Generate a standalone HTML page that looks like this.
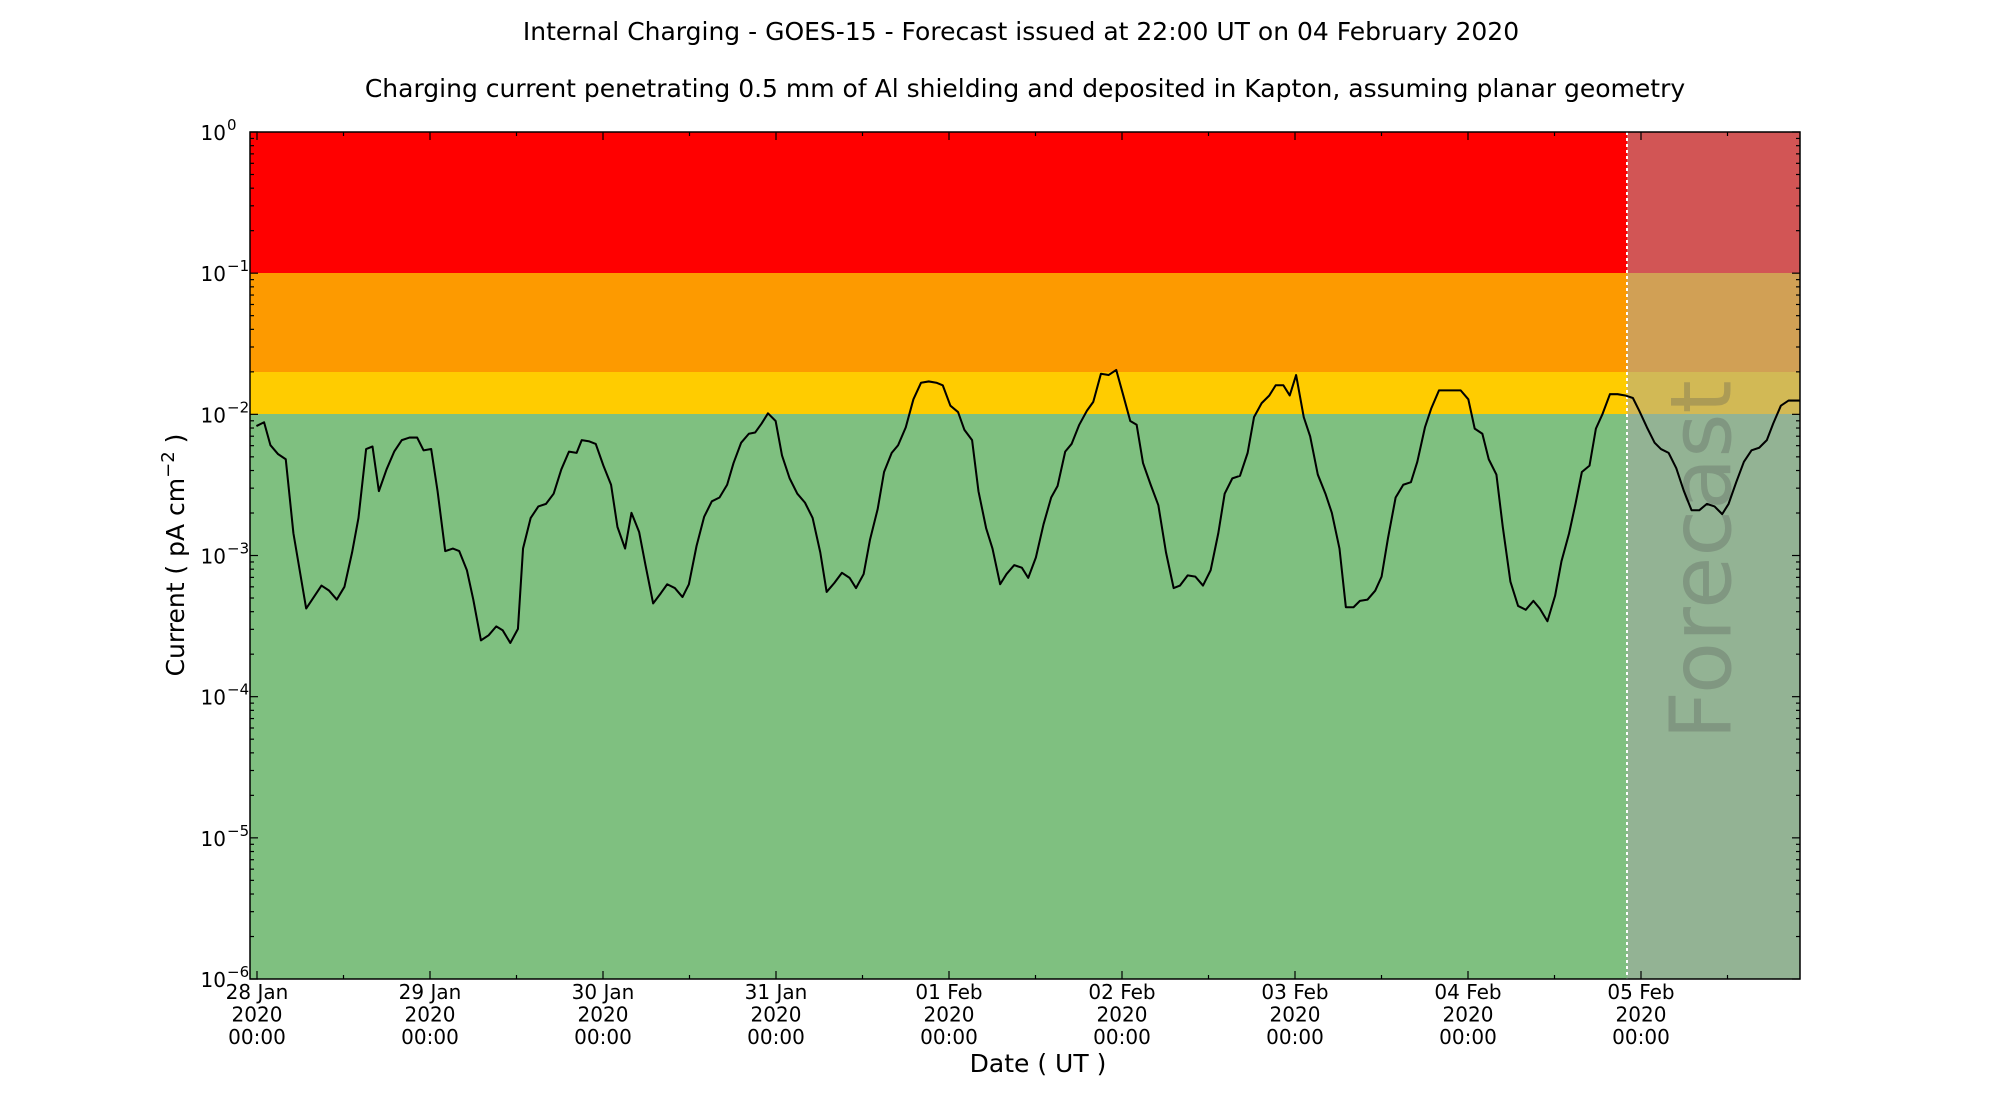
<!DOCTYPE html>
<html><head><meta charset="utf-8"><style>
body{margin:0;background:#fff}
svg{display:block;font-family:"DejaVu Sans","Liberation Sans",sans-serif}
</style></head><body>
<svg width="2000" height="1100" viewBox="0 0 2000 1100" xmlns="http://www.w3.org/2000/svg">
<rect width="2000" height="1100" fill="#fff"/>
<text x="1021" y="40" font-size="25" text-anchor="middle">Internal Charging - GOES-15 - Forecast issued at 22:00 UT on 04 February 2020</text>
<text x="1025" y="97" font-size="25" text-anchor="middle">Charging current penetrating 0.5 mm of Al shielding and deposited in Kapton, assuming planar geometry</text>
<!-- bands -->
<rect x="250" y="132" width="1550" height="141" fill="#ff0000"/>
<rect x="250" y="273" width="1550" height="99" fill="#fd9a00"/>
<rect x="250" y="372" width="1550" height="42" fill="#ffcc00"/>
<rect x="250" y="414" width="1550" height="565" fill="#7fc080"/>
<rect x="1627" y="132" width="173" height="847" fill="rgb(167,167,167)" fill-opacity="0.51"/>
<text transform="translate(1702,560) rotate(-90)" font-size="85" text-anchor="middle" dominant-baseline="central" fill="#555" fill-opacity="0.3">Forecast</text>
<line x1="1627" y1="132" x2="1627" y2="979" stroke="#fff" stroke-width="2" stroke-dasharray="3,3"/>
<g transform="scale(1.2757)">
<polyline fill="none" stroke="#000" stroke-width="1.6" stroke-linejoin="round" points="201,334 207,331 212,349 218,356 224,360 230,418 240,477 246,468 252,459 258,463 264,470 270,460 276,433 281,406 287,352 292,350 297,385 303,368 309,354 315,345 321,343 327,343 332,353 338,352 343,385 349,432 355,430 360,432 366,447 371,470 377,502 383,498 389,491 394,494 400,504 406,493 410,430 416,406 422,397 428,395 434,387 440,368 446,354 452,355 456,345 462,346 467,348 473,365 479,380 484,413 490,430 495,402 501,417 506,443 512,473 518,465 523,458 529,461 535,468 540,458 546,428 552,405 558,393 564,390 570,380 575,363 581,347 587,340 592,339 597,332 602,324 608,330 613,357 619,375 625,387 631,394 637,406 643,433 648,464 654,457 660,449 666,453 671,461 677,450 682,423 688,399 693,370 699,355 704,349 710,335 716,313 722,300 728,299 734,300 739,302 745,318 751,323 756,337 762,345 767,385 773,414 778,430 784,458 789,450 795,443 801,445 806,453 812,437 818,411 824,390 829,381 835,354 840,348 846,333 852,322 857,315 863,293 869,294 875,290 880,308 886,330 891,333 896,363 902,380 908,396 914,433 920,461 925,459 931,451 937,452 943,459 949,447 955,418 960,387 966,375 972,373 978,355 983,327 989,316 995,310 1000,302 1006,302 1011,310 1016,294 1022,327 1027,342 1033,372 1039,387 1044,402 1050,430 1055,476 1061,476 1066,471 1072,470 1078,463 1083,452 1088,422 1094,390 1100,380 1106,378 1111,362 1117,335 1122,320 1128,306 1133,306 1139,306 1145,306 1151,313 1156,336 1162,340 1167,360 1173,372 1178,413 1184,456 1190,475 1196,478 1202,471 1207,477 1213,487 1219,467 1224,440 1230,418 1235,395 1240,370 1246,365 1251,336 1256,325 1262,309 1268,309 1274,310 1280,312 1285,322 1291,335 1297,347 1302,352 1308,355 1314,367 1320,385 1326,400 1332,400 1338,395 1344,397 1350,403 1355,395 1361,378 1367,362 1373,353 1379,351 1385,345 1390,332 1396,318 1402,314 1408,314 1411,314"/>
</g>
<rect x="250" y="132" width="1550" height="847" fill="none" stroke="#000" stroke-width="1.5"/>
<g id="ticks" stroke="#000" stroke-width="1.2"></g>
<g id="labels" font-size="20"></g>
<text transform="translate(184,555) rotate(-90)" font-size="25" text-anchor="middle">Current ( pA cm<tspan dy="-10" font-size="18">−2</tspan><tspan dy="10"> )</tspan></text>
<text x="1038" y="1072" font-size="25" text-anchor="middle">Date ( UT )</text>
<script>
(function(){
var ns="http://www.w3.org/2000/svg",T=document.getElementById("ticks"),L=document.getElementById("labels");
function ln(a,b,c,d){var e=document.createElementNS(ns,"line");e.setAttribute("x1",a);e.setAttribute("y1",b);e.setAttribute("x2",c);e.setAttribute("y2",d);T.appendChild(e);}
var y0=132,dec=141.17;
for(var k=0;k<6;k++){for(var m=1;m<10;m++){var y=y0+(k+1)*dec-Math.log10(m)*dec;var L2=m==1?8:4;ln(250,y,250+L2,y);ln(1800,y,1800-L2,y);}}
ln(250,y0,258,y0);ln(1800,y0,1792,y0);
for(var k=0;k<=6;k++){var y=y0+k*dec;var t=document.createElementNS(ns,"text");t.setAttribute("x",226);t.setAttribute("y",y+8);t.setAttribute("text-anchor","end");t.textContent="10";L.appendChild(t);var s=document.createElementNS(ns,"text");s.setAttribute("x",227);s.setAttribute("y",y-2);s.setAttribute("font-size","15");s.textContent=k==0?"0":"−"+k;L.appendChild(s);}
var days=["28 Jan","29 Jan","30 Jan","31 Jan","01 Feb","02 Feb","03 Feb","04 Feb","05 Feb"];
for(var i=0;i<9;i++){var x=257+i*173.0;ln(x,979,x,971);ln(x,132,x,140);var xm=x+86.5;if(xm<1800){ln(xm,979,xm,975);ln(xm,132,xm,136);}
[days[i],"2020","00:00"].forEach(function(s,j){var t=document.createElementNS(ns,"text");t.setAttribute("x",x);t.setAttribute("y",999+j*22.5);t.setAttribute("text-anchor","middle");t.textContent=s;L.appendChild(t);});}
})();
</script>
</svg>
</body></html>
